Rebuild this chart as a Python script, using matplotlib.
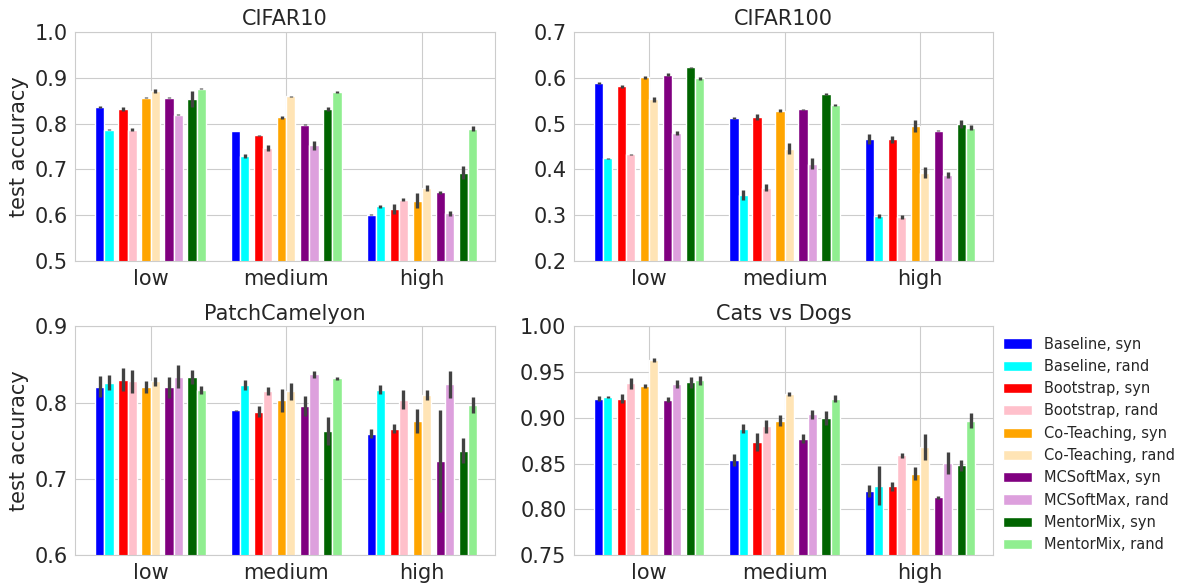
import numpy as np
import matplotlib
matplotlib.use("Agg")
import matplotlib.pyplot as plt
import seaborn as sns

sns.set_style("whitegrid")
plt.rcParams['font.family'] = ['DejaVu Sans']

groups = ["low", "medium", "high"]
methods = ["Baseline", "Bootstrap", "Co-Teaching", "MCSoftMax", "MentorMix"]
syn_colors = ["blue", "red", "orange", "purple", "darkgreen"]
rand_colors = ["cyan", "pink", "moccasin", "plum", "lightgreen"]

# values per noise level: [base syn, base rand, boot syn, boot rand, cot syn, cot rand,
#                          mcs syn, mcs rand, mm syn, mm rand]
cifar10_mean = [
    [0.836, 0.787, 0.832, 0.787, 0.857, 0.872, 0.857, 0.820, 0.854, 0.876],
    [0.784, 0.729, 0.775, 0.747, 0.814, 0.860, 0.798, 0.753, 0.832, 0.869],
    [0.601, 0.619, 0.613, 0.634, 0.632, 0.659, 0.650, 0.604, 0.693, 0.789],
]
cifar10_err = [
    [0.002, 0.001, 0.004, 0.004, 0.001, 0.004, 0.001, 0.002, 0.018, 0.001],
    [0.001, 0.005, 0.001, 0.006, 0.003, 0.001, 0.001, 0.010, 0.005, 0.002],
    [0.001, 0.004, 0.011, 0.004, 0.017, 0.006, 0.003, 0.005, 0.015, 0.005],
]
cifar100_mean = [
    [0.589, 0.424, 0.582, 0.433, 0.601, 0.553, 0.607, 0.479, 0.623, 0.599],
    [0.512, 0.344, 0.515, 0.360, 0.528, 0.445, 0.531, 0.412, 0.565, 0.540],
    [0.466, 0.298, 0.466, 0.296, 0.495, 0.393, 0.485, 0.388, 0.499, 0.491],
]
cifar100_err = [
    [0.002, 0.001, 0.003, 0.001, 0.004, 0.005, 0.003, 0.004, 0.001, 0.003],
    [0.002, 0.011, 0.007, 0.008, 0.003, 0.012, 0.002, 0.012, 0.002, 0.002],
    [0.011, 0.005, 0.008, 0.005, 0.013, 0.012, 0.001, 0.007, 0.008, 0.005],
]
pcam_mean = [
    [0.821, 0.826, 0.830, 0.828, 0.821, 0.828, 0.820, 0.834, 0.834, 0.817],
    [0.790, 0.823, 0.788, 0.815, 0.803, 0.815, 0.796, 0.837, 0.763, 0.832],
    [0.759, 0.817, 0.766, 0.804, 0.776, 0.810, 0.724, 0.824, 0.737, 0.797],
]
pcam_err = [
    [0.014, 0.010, 0.015, 0.015, 0.008, 0.006, 0.014, 0.015, 0.009, 0.005],
    [0.001, 0.007, 0.007, 0.005, 0.015, 0.011, 0.013, 0.004, 0.018, 0.002],
    [0.006, 0.006, 0.006, 0.012, 0.016, 0.007, 0.067, 0.018, 0.016, 0.010],
]
catsdogs_mean = [
    [0.921, 0.923, 0.921, 0.938, 0.935, 0.963, 0.920, 0.937, 0.939, 0.941],
    [0.854, 0.888, 0.874, 0.891, 0.897, 0.926, 0.877, 0.904, 0.900, 0.921],
    [0.820, 0.826, 0.825, 0.859, 0.839, 0.868, 0.813, 0.851, 0.848, 0.897],
]
catsdogs_err = [
    [0.003, 0.001, 0.005, 0.006, 0.002, 0.002, 0.003, 0.004, 0.006, 0.005],
    [0.007, 0.005, 0.010, 0.007, 0.006, 0.002, 0.005, 0.005, 0.008, 0.004],
    [0.007, 0.021, 0.005, 0.003, 0.007, 0.014, 0.002, 0.012, 0.006, 0.008],
]

panels = [
    ("CIFAR10", cifar10_mean, cifar10_err, [0.5, 0.6, 0.7, 0.8, 0.9, 1.0], "%.1f"),
    ("CIFAR100", cifar100_mean, cifar100_err, [0.2, 0.3, 0.4, 0.5, 0.6, 0.7], "%.1f"),
    ("PatchCamelyon", pcam_mean, pcam_err, [0.6, 0.7, 0.8, 0.9], "%.1f"),
    ("Cats vs Dogs", catsdogs_mean, catsdogs_err, [0.75, 0.80, 0.85, 0.90, 0.95, 1.00], "%.2f"),
]

fig = plt.figure(figsize=(11.86, 5.85), dpi=100)
rects = [
    [0.0635, 0.554, 0.354, 0.391],
    [0.484, 0.554, 0.3533, 0.391],
    [0.0635, 0.0513, 0.354, 0.3906],
    [0.484, 0.0513, 0.3533, 0.3906],
]

width = 0.068
pair_step = 0.17
x = np.arange(len(groups))

for i, (title, mean, err, yt, fmt) in enumerate(panels):
    ax = fig.add_axes(rects[i])
    mean = np.array(mean)
    err = np.array(err)
    for m in range(len(methods)):
        for k in range(2):
            col = 2 * m + k
            off = (m - 2) * pair_step + (k - 0.5) * width
            color = syn_colors[m] if k == 0 else rand_colors[m]
            label = methods[m] + (", syn" if k == 0 else ", rand")
            ax.bar(x + off, mean[:, col], width, color=color, label=label, zorder=2)
            ax.errorbar(x + off, mean[:, col], yerr=err[:, col], fmt="none",
                        ecolor=".26", elinewidth=2.4, capsize=0, zorder=3)
    ax.set_xlim(-0.555, 2.54)
    ax.set_ylim(yt[0], yt[-1])
    ax.set_yticks(yt)
    ax.set_yticklabels([fmt % v for v in yt])
    ax.set_xticks(x)
    ax.set_xticklabels(groups)
    ax.tick_params(labelsize=15, pad=2)
    ax.set_title(title, fontsize=15, pad=5)
    if i % 2 == 0:
        ax.set_ylabel("test accuracy", fontsize=15, labelpad=4)
    ax.set_axisbelow(True)
    if i == 3:
        ax.legend(loc="center left", bbox_to_anchor=(1.0, 0.484), fontsize=10.5,
                  frameon=False, borderaxespad=0.3)

plt.savefig("out.png", dpi=100)
